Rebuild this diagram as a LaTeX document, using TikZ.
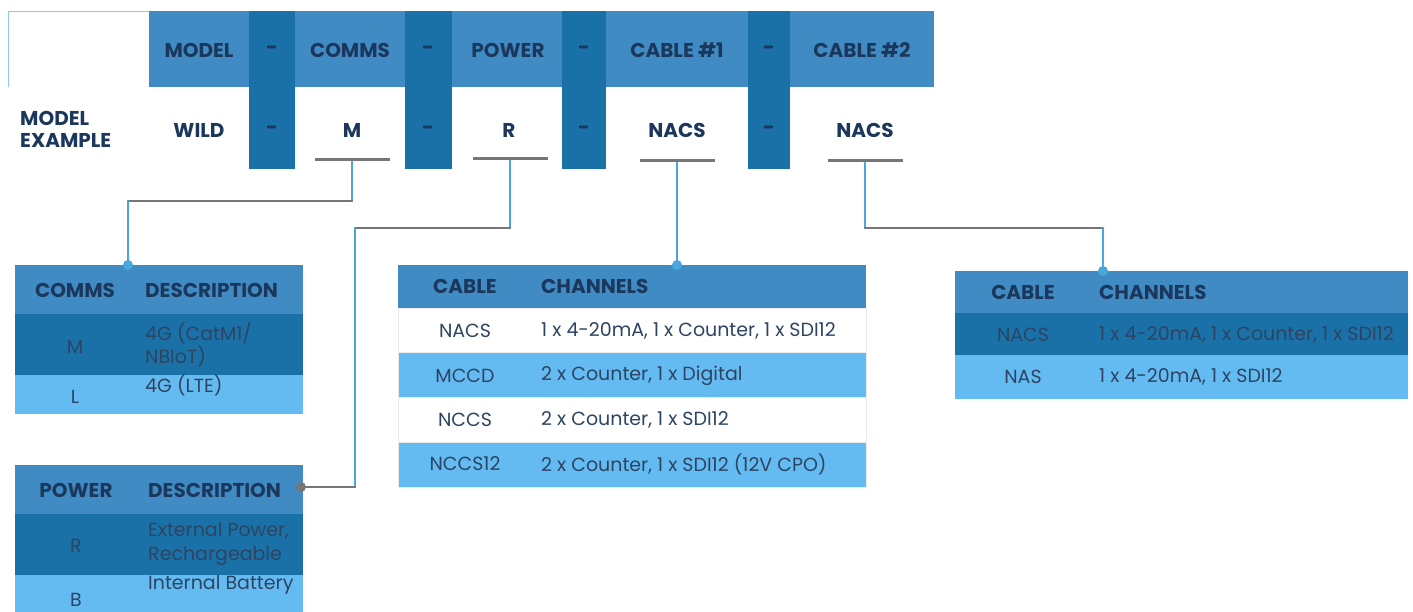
\documentclass[tikz,border=0pt]{standalone}
\usepackage{fontspec}
\setmainfont{Poppins}
\begin{document}
\begin{tikzpicture}[x=1pt, y=-1pt, line join=round, line cap=round, font=\fontsize{19}{23.5}\selectfont]

% ---------- helpers ----------
\definecolor{hdrblue}{RGB}{65,139,196}
\definecolor{dashblue}{RGB}{26,113,168}
\definecolor{rowlight}{RGB}{99,187,242}
\definecolor{txtnavy}{RGB}{27,56,92}
\definecolor{celltxt}{RGB}{45,68,98}
\definecolor{linegray}{RGB}{118,118,118}
\definecolor{linkblue}{RGB}{72,168,220}

\tikzset{
  hdr/.style={font=\fontsize{20}{22}\selectfont\bfseries, text=txtnavy, inner sep=0pt},
  cell/.style={text=celltxt, inner sep=0pt},
  ubar/.style={fill=linegray, minimum width=75pt, minimum height=3pt, inner sep=0pt},
  link/.style={linkblue, line width=2pt},
  joint/.style={linegray, line width=2.5pt},
  rowline/.style={draw=black!8, line width=0.6pt},
}

\useasboundingbox (0,0) rectangle (1413,612);

% ---------- code strip ----------
\draw[linkblue!60, line width=0.8pt] (8,87) -- (8,11) -- (149,11);
\fill[hdrblue] (149,11) rectangle (934,87);
\foreach \xa/\xb in {249/295, 405/452, 562/606, 748/790}{%
  \fill[dashblue] (\xa,11) rectangle (\xb,169);
}

\node[hdr] (hmodel) at (199,50) {MODEL};
\node[hdr] (hcomms) at (350,50) {COMMS};
\node[hdr] (hpower) at (508,50) {POWER};
\node[hdr] (hcab1) at (677,50) {CABLE \#1};
\node[hdr] (hcab2) at (862,50) {CABLE \#2};
\foreach \x [count=\i] in {272,428,584,769}{%
  \node[hdr] (dtop\i) at (\x,50) {-};
  \node[hdr] (dbot\i) at (\x,130) {-};
}

% example row
\node[hdr, anchor=west, align=left] (mexample) at (20,129) {MODEL\\EXAMPLE};
\node[hdr] (ewild) at (199,130) {WILD};
\node[hdr] (ecomms) at (352,130) {M};
\node[hdr] (epower) at (509,130) {R};
\node[hdr] (ecab1) at (677,130) {NACS};
\node[hdr] (ecab2) at (865,130) {NACS};

\node[ubar] (ucomms) at (352,160) {};
\node[ubar] (upower) at (510,159) {};
\node[ubar] (ucab1) at (677,161) {};
\node[ubar] (ucab2) at (865,161) {};

% ---------- comms table ----------
\fill[hdrblue] (15,265) rectangle (303,314);
\fill[dashblue] (15,314) rectangle (303,375);
\fill[rowlight] (15,375) rectangle (303,414);
\node[hdr] (tcomms) at (75,290) {COMMS};
\node[hdr, anchor=west] (tcdesc) at (145,290) {DESCRIPTION};
\node[cell] (cm) at (75,347) {M};
\node[cell, anchor=west, align=left] (cmdesc) at (145,345) {4G (CatM1/\\NBIoT)};
\node[cell] (cl) at (75,397) {L};
\node[cell, anchor=west] (cldesc) at (145,385) {4G (LTE)};

% ---------- power table ----------
\fill[hdrblue] (15,465) rectangle (303,514);
\fill[dashblue] (15,514) rectangle (303,575);
\fill[rowlight] (15,575) rectangle (303,612);
\node[hdr] (tpower) at (76,490) {POWER};
\node[hdr, anchor=west] (tpdesc) at (148,490) {DESCRIPTION};
\node[cell] (pr) at (76,546) {R};
\node[cell, anchor=west, align=left] (prdesc) at (148,544) {External Power,\\Rechargeable};
\node[cell] (pb) at (76,600) {B};
\node[cell, anchor=west] (pbdesc) at (148,585) {Internal Battery};

% ---------- cable #1 table ----------
\fill[hdrblue] (398,265) rectangle (866,308);
\foreach \ya/\yb/\c in {308/352/white, 352/397/rowlight, 397/442/white, 442/487/rowlight}{%
  \fill[\c, rowline] (398,\ya) rectangle (866,\yb);
}
\node[hdr] (tcab1) at (465,286) {CABLE};
\node[hdr, anchor=west] (tch1) at (541,286) {CHANNELS};
\foreach \y/\code/\chan [count=\i] in {331/NACS/{1 x 4-20mA, 1 x Counter, 1 x SDI12},
    376/MCCD/{2 x Counter, 1 x Digital},
    420/NCCS/{2 x Counter, 1 x SDI12},
    464/NCCS12/{2 x Counter, 1 x SDI12 (12V CPO)}}{%
  \node[cell] (aone\i) at (465,\y) {\code};
  \node[cell, anchor=west] (bone\i) at (541,\y) {\chan};
}

% ---------- cable #2 table ----------
\fill[hdrblue] (955,271) rectangle (1408,313);
\fill[dashblue] (955,313) rectangle (1408,355);
\fill[rowlight] (955,355) rectangle (1408,399);
\node[hdr] (tcab2) at (1023,292) {CABLE};
\node[hdr, anchor=west] (tch2) at (1099,292) {CHANNELS};
\node[cell] (atwo1) at (1023,335) {NACS};
\node[cell, anchor=west] (btwo1) at (1099,335) {1 x 4-20mA, 1 x Counter, 1 x SDI12};
\node[cell] (atwo2) at (1023,377) {NAS};
\node[cell, anchor=west] (btwo2) at (1099,377) {1 x 4-20mA, 1 x SDI12};

% ---------- connectors ----------
\coordinate (kc1) at (352,201);
\coordinate (kc2) at (128,201);
\coordinate (pcomms) at (128,265);
\draw[link] (ucomms.south) -- (kc1);
\draw[joint] (kc1) -- (kc2);
\draw[link] (kc2) -- (pcomms);
\fill[linkblue] (pcomms) circle (5);

\coordinate (kp1) at (510,228);
\coordinate (kp2) at (355,228);
\coordinate (kp3) at (355,487);
\coordinate (ppower) at (301,487);
\draw[link] (upower.south) -- (kp1);
\draw[joint] (kp1) -- (kp2);
\draw[link] (kp2) -- (kp3);
\draw[joint] (kp3) -- (ppower);
\fill[linegray] (ppower) circle (5);

\coordinate (pcab1) at (677,265);
\draw[link] (ucab1.south) -- (pcab1);
\fill[linkblue] (pcab1) circle (5);

\coordinate (k21) at (865,228);
\coordinate (k22) at (1103,228);
\coordinate (pcab2) at (1103,271);
\draw[link] (ucab2.south) -- (k21);
\draw[joint] (k21) -- (k22);
\draw[link] (k22) -- (pcab2);
\fill[linkblue] (pcab2) circle (5);

\end{tikzpicture}
\end{document}
